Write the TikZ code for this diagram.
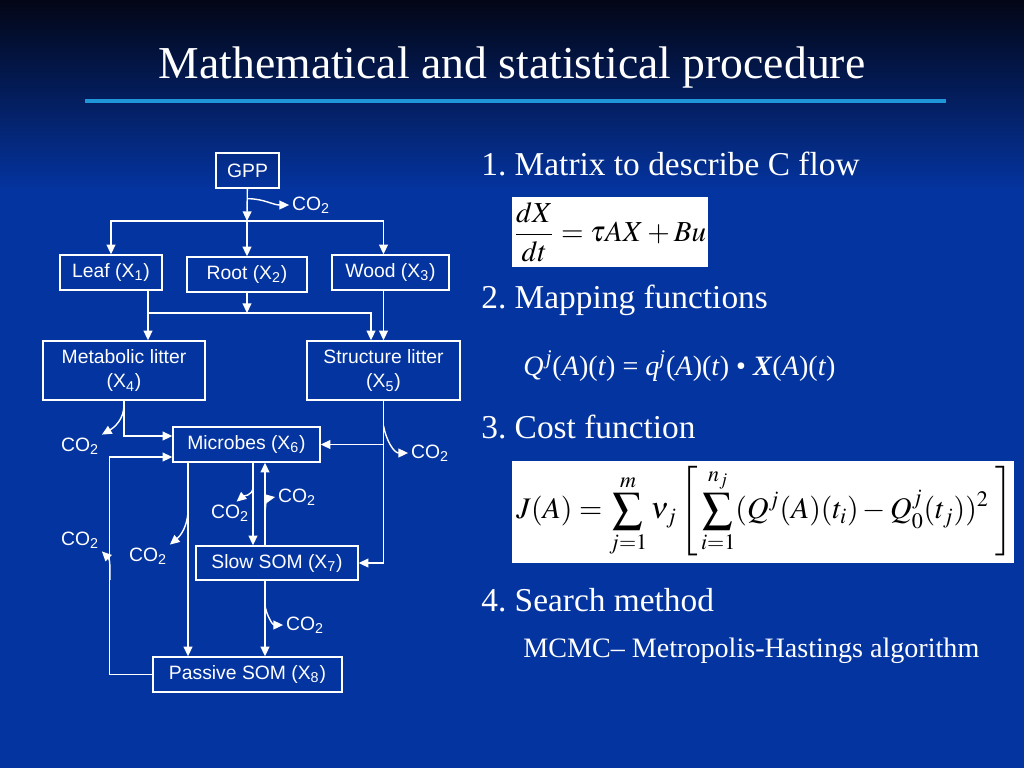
\documentclass[tikz,border=0pt]{standalone}
\usepackage{mathptmx}
\usepackage[no-math]{fontspec}
\setmainfont{Liberation Serif}
\setsansfont{Liberation Sans}
\usetikzlibrary{arrows.meta,positioning}
\definecolor{slideblue}{RGB}{4,52,160}
\definecolor{slidetop}{RGB}{3,6,22}
\definecolor{rulecyan}{RGB}{30,150,215}
\frenchspacing
\begin{document}
\begin{tikzpicture}[x=0.02cm,y=-0.02cm,
    pool/.style={draw=white, line width=0.8pt, text=white, align=center, inner sep=0pt,
      font=\sffamily\fontsize{11}{14}\selectfont},
    flow/.style={draw=white, line width=0.8pt, -{Triangle[length=5.5pt,width=5pt]}},
    gas/.style={text=white, inner sep=1.5pt, font=\sffamily\fontsize{11}{13}\selectfont},
    heading/.style={text=white, anchor=base west, inner sep=0pt, font=\fontsize{19}{23}\selectfont},
    eqbox/.style={fill=white, text=black, inner sep=0pt}]

  % slide background
  \fill[slideblue] (0,0) rectangle (1024,768);
  \shade[top color=slidetop, bottom color=slideblue] (0,0) rectangle (1024,190);
  \useasboundingbox (0,0) rectangle (1024,768);

  \node[text=white, anchor=base, inner sep=0pt, font=\fontsize{26}{30}\selectfont] (title) at (512,78)
    {Mathematical and statistical procedure};
  \draw[rulecyan, line width=2.3pt] (85,101) -- (946,101);

  % carbon pools
  \node[pool, minimum width=1.26cm, minimum height=0.70cm] (gpp) at (247.5,170.5) {GPP};
  \node[pool, minimum width=2.04cm, minimum height=0.70cm] (leaf) at (111,272.5) {Leaf (X\textsubscript{1})};
  \node[pool, minimum width=2.40cm, minimum height=0.70cm] (root) at (247,274.5) {Root (X\textsubscript{2})};
  \node[pool, minimum width=2.34cm, minimum height=0.70cm] (wood) at (390.5,272.5) {Wood (X\textsubscript{3})};
  \node[pool, minimum width=3.24cm, minimum height=1.18cm] (metabolic) at (124,370.5) {Metabolic litter\\(X\textsubscript{4})};
  \node[pool, minimum width=3.06cm, minimum height=1.18cm] (structure) at (383.5,370.5) {Structure litter\\(X\textsubscript{5})};
  \node[pool, minimum width=2.94cm, minimum height=0.70cm] (microbes) at (246.5,444.5) {Microbes (X\textsubscript{6})};
  \node[pool, minimum width=3.24cm, minimum height=0.68cm] (slow) at (277,563) {Slow SOM (X\textsubscript{7})};
  \node[pool, minimum width=3.78cm, minimum height=0.70cm] (passive) at (247.5,674.5) {Passive SOM (X\textsubscript{8})};

  % respiration labels
  \node[gas] (c0) at (311,205) {CO\textsubscript{2}};
  \node[gas] (c1) at (80,446) {CO\textsubscript{2}};
  \node[gas] (c2) at (430,453) {CO\textsubscript{2}};
  \node[gas] (c3) at (230,513) {CO\textsubscript{2}};
  \node[gas] (c4) at (297,497) {CO\textsubscript{2}};
  \node[gas] (c5) at (80,540) {CO\textsubscript{2}};
  \node[gas] (c6) at (148,556) {CO\textsubscript{2}};
  \node[gas] (c7) at (305,625) {CO\textsubscript{2}};

  % allocation of GPP
  \coordinate (split) at (247,221);
  \coordinate (woodin) at (wood.north -| structure.north);
  \draw[flow] (gpp) -- (split);
  \draw[flow] (split) -- (root);
  \draw[flow] (split) -| (leaf);
  \draw[flow] (split) -| (woodin);

  % litter fall
  \coordinate (lsplit) at (148,313);
  \draw[white, line width=0.8pt] (leaf.south -| lsplit) -- (lsplit);
  \draw[flow] (lsplit) -- (lsplit |- metabolic.north);
  \draw[flow] (lsplit) -| ([xshift=-0.25cm]structure.north);
  \draw[flow] (root) -- (root |- lsplit);
  \draw[flow] (wood.south -| structure.north) -- (structure);

  % litter to soil
  \draw[flow] (metabolic.south) |- ([yshift=0.17cm]microbes.west);
  \draw[flow] (structure.south) |- (slow.east);
  \draw[flow] (structure.south |- microbes.east) -- (microbes.east);

  % soil pools
  \coordinate (mp) at ([xshift=-1.17cm]microbes.south);
  \coordinate (ms) at ([xshift=0.13cm]microbes.south);
  \coordinate (sm) at ([xshift=-0.24cm]slow.north);
  \draw[flow] (mp) -- (mp |- passive.north);
  \draw[flow] (ms) -- (ms |- slow.north);
  \draw[flow] (sm) -- (sm |- microbes.south);
  \draw[flow] (sm |- slow.south) -- (sm |- passive.north);
  \draw[flow] (passive.west) -- ++(-43,0) |- ([yshift=-0.25cm]microbes.west);
  \coordinate (loop) at (110,580);

  % respiration
  \draw[flow] ([yshift=-0.2cm]gpp.south) to[out=0,in=180] (c0.west);
  \draw[flow] ([yshift=-0.08cm]metabolic.south) to[out=-90,in=30] (c1.north east);
  \draw[flow] ([yshift=-0.5cm]structure.south) to[out=-80,in=180] (c2.west);
  \draw[flow] ([yshift=-0.5cm]ms) to[out=-95,in=40] (c3.60);
  \draw[flow] ([yshift=0.58cm]sm) to[out=90,in=190] (c4.west);
  \draw[flow] (loop) to[out=90,in=-45] (c5.south east);
  \draw[flow] ([yshift=-1.0cm]mp) to[out=-95,in=40] (c6.north east);
  \draw[flow] ([yshift=-0.5cm]sm |- slow.south) to[out=-80,in=180] (c7.west);

  % procedure steps
  \node[heading] (h1) at (481,175) {1. Matrix to describe C flow};
  \node[eqbox, minimum width=3.92cm, minimum height=1.40cm] (eq1) at (610,232)
    {\fontsize{16.5}{20}\selectfont$\displaystyle\frac{dX}{dt} = \tau AX + Bu$};
  \node[heading] (h2) at (481,308) {2. Mapping functions};
  \node[text=white, anchor=base west, inner sep=0pt, font=\fontsize{16}{19}\selectfont] (eq2) at (523,375)
    {\textit{Q}\kern1.2pt\textsuperscript{\textit{j}}(\textit{A})(\textit{t}) = \textit{q}\textsuperscript{\textit{j}}(\textit{A})(\textit{t}) \textbullet{} \textbf{\textit{X}}(\textit{A})(\textit{t})};
  \node[heading] (h3) at (481,438) {3. Cost function};
  \node[eqbox, minimum width=10.04cm, minimum height=2.04cm] (eq3) at (763,512)
    {\fontsize{17}{21}\selectfont$\displaystyle \,J(A) = \sum_{j=1}^{m} \nu_j \left[\,\sum_{i=1}^{n_j} (Q^j(A)(t_i) - Q_0^j(t_j))^2 \;\right]$};
  \node[heading] (h4) at (481,611) {4. Search method};
  \node[text=white, anchor=base west, inner sep=0pt, font=\fontsize{16}{19}\selectfont] (mcmc) at (523,657)
    {MCMC– Metropolis-Hastings algorithm};
\end{tikzpicture}
\end{document}
